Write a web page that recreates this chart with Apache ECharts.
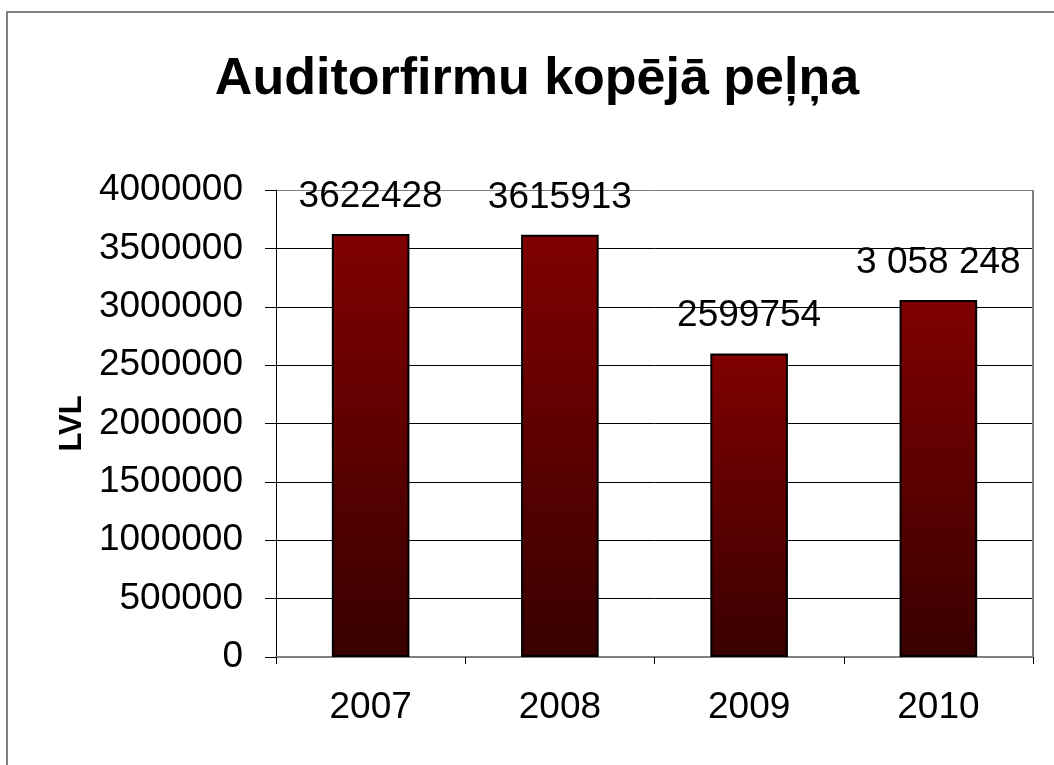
<!DOCTYPE html>
<html>
<head>
<meta charset="utf-8">
<script src="https://cdn.jsdelivr.net/npm/echarts@6/dist/echarts.min.js"></script>
<style>html,body{margin:0;padding:0;background:#fff}#c{width:1054px;height:765px}</style>
</head>
<body>
<div id="c"></div>
<script>
const titleText = 'Auditorfirmu kopējā peļņa';
const yAxisName = 'LVL';
const categories = ['2007', '2008', '2009', '2010'];
const values = [3622428, 3615913, 2599754, 3058248];
const valueLabels = ['3622428', '3615913', '2599754', '3 058 248'];
const yMin = 0, yMax = 4000000, yInterval = 500000;

const FONT = '"Liberation Sans", Arial, sans-serif';
const chart = echarts.init(document.getElementById('c'), null, {renderer: 'canvas'});
const gridColors = [];
for (let v = yMin; v <= yMax; v += yInterval) gridColors.push(v === yMax ? '#808080' : '#000000');

chart.setOption({
  animation: false,
  backgroundColor: '#ffffff',
  graphic: [
    {type: 'rect', shape: {x: 7, y: 12, width: 1200, height: 900},
     style: {fill: 'none', stroke: '#808080', lineWidth: 2}, z: 100},
    {type: 'text', x: 537, y: 80,
     style: {text: titleText, font: 'bold 52px ' + FONT, fill: '#000', align: 'center', verticalAlign: 'middle'}},
    {type: 'line', shape: {x1: 1033, y1: 190, x2: 1033, y2: 657},
     style: {stroke: '#808080', lineWidth: 2}, z: 5}
  ],
  grid: {left: 276, right: 21, top: 190, bottom: 108, containLabel: false},
  xAxis: {
    type: 'category', data: categories,
    axisLine: {show: true, lineStyle: {color: '#808080', width: 2}},
    axisTick: {show: true, length: 7, lineStyle: {color: '#000', width: 1}},
    axisLabel: {color: '#000', fontFamily: FONT, fontSize: 37, margin: 32},
    splitLine: {show: false}
  },
  yAxis: {
    type: 'value', min: yMin, max: yMax, interval: yInterval,
    name: yAxisName, nameLocation: 'middle', nameGap: 181, nameRotate: 90,
    nameTextStyle: {color: '#000', fontFamily: FONT, fontSize: 31, fontWeight: 'bold'},
    axisLine: {show: true, lineStyle: {color: '#000', width: 1}},
    axisTick: {show: true, length: 11, lineStyle: {color: '#000', width: 1}},
    axisLabel: {color: '#000', fontFamily: FONT, fontSize: 37, margin: 33, formatter: v => String(v)},
    splitLine: {show: true, lineStyle: {color: gridColors, width: 1}}
  },
  series: [{
    type: 'bar',
    data: values,
    barWidth: '41%',
    itemStyle: {
      color: new echarts.graphic.LinearGradient(0, 0, 0, 1, [
        {offset: 0, color: '#800000'},
        {offset: 1, color: '#380000'}
      ]),
      borderColor: '#000', borderWidth: 2
    },
    label: {
      show: true, position: 'top', distance: 19,
      color: '#000', fontFamily: FONT, fontSize: 37,
      formatter: p => valueLabels[p.dataIndex]
    }
  }]
});
</script>
</body>
</html>
